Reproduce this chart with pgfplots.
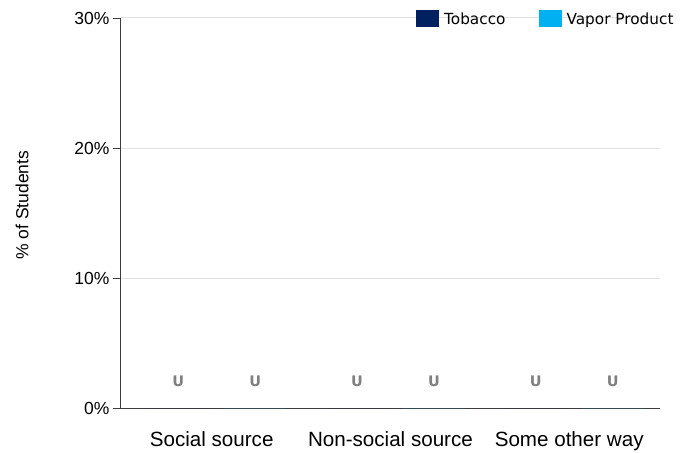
\documentclass[border=0pt]{standalone}
\usepackage{pgfplots}
\pgfplotsset{compat=1.18}
\usepackage{fontspec}
\setmainfont{Liberation Sans}
\newfontfamily\verdana{DejaVu Sans}
\definecolor{tobacco}{RGB}{0,32,96}
\definecolor{vapor}{RGB}{0,176,240}
\definecolor{gridc}{RGB}{225,225,225}
\definecolor{axisc}{RGB}{60,60,60}
\definecolor{ugray}{RGB}{128,128,128}
\begin{document}
\begin{tikzpicture}[x=1pt,y=1pt]
\useasboundingbox (-120,-44) rectangle (575,408);
\begin{axis}[
  at={(0,0)}, anchor=south west,
  scale only axis, width=540pt, height=390pt,
  xmin=-0.541, xmax=2.48, ymin=0, ymax=30,
  ybar=15pt, bar width=62pt,
  axis x line*=bottom, axis y line*=left,
  axis line style={-, draw=axisc, line width=0.9pt},
  xtick={0,1,2},
  xticklabels={Social source, Non-social source, Some other way},
  xtick style={draw=none},
  x tick label style={font=\fontsize{20.6}{24}\selectfont, yshift=-13pt, xshift=-5pt},
  ytick={0,10,20,30},
  yticklabels={0\%,10\%,20\%,30\%},
  y tick label style={font=\fontsize{17.5}{21}\selectfont},
  ytick style={draw=axisc, line width=0.9pt},
  tick align=outside, major tick length=7pt,
  /pgf/number format/assume math mode=true,
  ymajorgrids, major grid style={draw=gridc, line width=1pt},
  ylabel={\% of Students},
  every axis y label/.style={at={(-98pt,0.52)}, rotate=90, anchor=center, font=\fontsize{17.5}{21}\selectfont},
  legend style={at={(0.548,1.02)}, anchor=north west, draw=none, fill=none,
    font=\verdana\fontsize{15.3}{18}\selectfont, inner sep=0pt,
    /tikz/every odd column/.append style={column sep=3pt},
    /tikz/every even column/.append style={column sep=31pt}},
  legend columns=2,
  legend image code/.code={\fill[#1] (0pt,-8pt) rectangle (23pt,9pt);},
  clip=false,
]
\addplot[fill=tobacco, draw=none, nodes near coords={U},
  every node near coord/.append style={font=\verdana\bfseries\fontsize{14.5}{16}\selectfont, text=ugray, anchor=center, yshift=27pt}]
  coordinates {(0,0) (1,0) (2,0)};
\addplot[fill=vapor, draw=none, nodes near coords={U},
  every node near coord/.append style={font=\verdana\bfseries\fontsize{14.5}{16}\selectfont, text=ugray, anchor=center, yshift=27pt}]
  coordinates {(0,0) (1,0) (2,0)};
\legend{Tobacco, Vapor Product}
\end{axis}
\end{tikzpicture}
\end{document}
